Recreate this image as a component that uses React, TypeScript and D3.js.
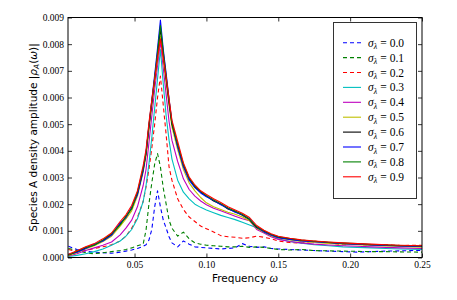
import React, { useEffect, useRef } from 'react';
import * as d3 from 'd3';

// frequency grid (omega)
const freq = [
  0.004, 0.010, 0.016, 0.022, 0.028, 0.034, 0.040, 0.044, 0.048, 0.052,
  0.056, 0.058, 0.060, 0.062, 0.064, 0.066, 0.068, 0.070, 0.072, 0.074,
  0.076, 0.080, 0.084, 0.088, 0.092, 0.096, 0.100, 0.105, 0.110, 0.115,
  0.120, 0.125, 0.130, 0.135, 0.140, 0.145, 0.150, 0.158, 0.166, 0.175,
  0.185, 0.195, 0.205, 0.215, 0.225, 0.235, 0.250,
];

// amplitudes |rho_A(omega)|, in units of 1e-3
const sig00 = [
  0.42, 0.30, 0.24, 0.20, 0.18, 0.16, 0.20, 0.24, 0.28, 0.34,
  0.42, 0.48, 0.65, 1.05, 1.90, 2.50, 1.90, 1.40, 1.10, 0.78,
  0.55, 0.40, 0.62, 0.50, 0.40, 0.38, 0.36, 0.34, 0.32, 0.34,
  0.36, 0.52, 0.42, 0.38, 0.40, 0.34, 0.32, 0.30, 0.28, 0.26,
  0.24, 0.22, 0.20, 0.22, 0.24, 0.25, 0.27,
];
const sig01 = [
  0.34, 0.26, 0.18, 0.14, 0.18, 0.22, 0.26, 0.30, 0.36, 0.44,
  0.50, 1.03, 2.00, 2.80, 3.50, 3.90, 3.40, 2.60, 2.00, 1.40,
  1.10, 0.80, 0.95, 0.70, 0.55, 0.50, 0.46, 0.44, 0.42, 0.40,
  0.40, 0.42, 0.38, 0.40, 0.38, 0.34, 0.30, 0.28, 0.30, 0.26,
  0.25, 0.24, 0.23, 0.22, 0.22, 0.21, 0.20,
];
const sig02 = [
  0.30, 0.22, 0.26, 0.34, 0.40, 0.48, 0.62, 0.80, 1.10, 1.50,
  2.10, 2.65, 3.30, 4.10, 5.00, 6.00, 6.80, 5.70, 4.60, 3.40,
  2.90, 2.20, 1.80, 1.52, 1.35, 1.18, 1.08, 0.96, 0.82, 0.78,
  0.76, 0.72, 0.74, 0.80, 0.76, 0.70, 0.62, 0.56, 0.54, 0.62,
  0.55, 0.48, 0.50, 0.46, 0.48, 0.45, 0.46,
];
const sig03 = [
  0.04, 0.08, 0.14, 0.22, 0.32, 0.46, 0.62, 0.80, 1.05, 1.45,
  2.10, 2.70, 3.50, 4.50, 5.60, 6.70, 7.80, 6.50, 5.30, 4.40,
  3.70, 2.90, 2.45, 2.20, 2.00, 1.88, 1.78, 1.68, 1.58, 1.50,
  1.42, 1.32, 1.22, 1.12, 0.95, 0.82, 0.70, 0.60, 0.54, 0.48,
  0.44, 0.40, 0.38, 0.36, 0.34, 0.32, 0.30,
];
const sig04 = [
  0.06, 0.14, 0.26, 0.36, 0.46, 0.58, 0.85, 1.10, 1.40, 1.90,
  2.70, 3.30, 4.30, 5.30, 6.30, 7.20, 8.10, 7.10, 6.10, 5.10,
  4.40, 3.60, 2.95, 2.55, 2.30, 2.12, 1.98, 1.85, 1.75, 1.65,
  1.55, 1.45, 1.38, 1.05, 0.92, 0.78, 0.68, 0.60, 0.55, 0.50,
  0.47, 0.44, 0.42, 0.40, 0.38, 0.36, 0.34,
];
const sig05 = [
  0.08, 0.18, 0.32, 0.44, 0.60, 0.80, 1.18, 1.45, 1.75, 2.30,
  3.20, 3.80, 4.80, 5.70, 6.60, 7.45, 8.30, 7.40, 6.55, 5.70,
  4.90, 4.05, 3.30, 2.80, 2.50, 2.25, 2.05, 1.90, 1.80, 1.70,
  1.62, 1.52, 1.38, 1.10, 0.95, 0.82, 0.73, 0.66, 0.60, 0.56,
  0.53, 0.50, 0.48, 0.45, 0.43, 0.41, 0.39,
];
const sig06 = [
  0.10, 0.22, 0.36, 0.48, 0.64, 0.86, 1.25, 1.52, 1.85, 2.40,
  3.30, 3.90, 4.90, 5.80, 6.70, 7.60, 8.60, 7.60, 6.70, 5.80,
  5.00, 4.20, 3.45, 2.95, 2.65, 2.45, 2.30, 2.12, 2.00, 1.82,
  1.72, 1.58, 1.42, 1.12, 0.98, 0.85, 0.76, 0.70, 0.64, 0.60,
  0.56, 0.53, 0.51, 0.48, 0.46, 0.44, 0.42,
];
const sig07 = [
  0.12, 0.20, 0.34, 0.50, 0.62, 0.84, 1.30, 1.50, 1.88, 2.35,
  3.25, 3.95, 4.95, 5.90, 6.85, 7.85, 8.90, 7.80, 6.90, 5.95,
  5.10, 4.15, 3.40, 2.90, 2.62, 2.42, 2.28, 2.15, 1.98, 1.85,
  1.70, 1.60, 1.45, 1.15, 0.96, 0.84, 0.74, 0.68, 0.62, 0.59,
  0.56, 0.52, 0.50, 0.47, 0.45, 0.43, 0.41,
];
const sig08 = [
  0.08, 0.24, 0.38, 0.46, 0.66, 0.90, 1.22, 1.55, 1.82, 2.45,
  3.35, 3.92, 4.95, 5.85, 6.75, 7.70, 8.70, 7.70, 6.80, 5.90,
  5.05, 4.25, 3.50, 2.98, 2.68, 2.48, 2.32, 2.16, 2.02, 1.86,
  1.74, 1.62, 1.44, 1.16, 1.00, 0.87, 0.78, 0.71, 0.65, 0.61,
  0.57, 0.54, 0.52, 0.49, 0.47, 0.45, 0.43,
];
const sig09 = [
  0.12, 0.25, 0.40, 0.52, 0.70, 0.92, 1.35, 1.60, 1.95, 2.50,
  3.45, 4.05, 5.05, 5.90, 6.70, 7.50, 8.20, 7.50, 6.75, 5.95,
  5.15, 4.35, 3.55, 3.02, 2.72, 2.50, 2.36, 2.20, 2.06, 1.90,
  1.78, 1.66, 1.50, 1.20, 1.02, 0.89, 0.80, 0.72, 0.66, 0.62,
  0.58, 0.55, 0.52, 0.50, 0.48, 0.46, 0.44,
];

const seriesValues = [sig00, sig01, sig02, sig03, sig04, sig05, sig06, sig07, sig08, sig09];
const sigmaLabels = ['0.0', '0.1', '0.2', '0.3', '0.4', '0.5', '0.6', '0.7', '0.8', '0.9'];
const colors = ['#0000ff', '#008000', '#ff0000', '#00bfbf', '#bf00bf', '#bfbf00', '#000000', '#0000ff', '#008000', '#ff0000'];
const dashed = [true, true, true, false, false, false, false, false, false, false];

const xTicks = [0.05, 0.10, 0.15, 0.20, 0.25];
const yTicks = [0, 1, 2, 3, 4, 5, 6, 7, 8, 9];

const App: React.FC = () => {
  const svgRef = useRef<SVGSVGElement>(null);

  useEffect(() => {
    if (!svgRef.current) return;
    const svg = d3.select(svgRef.current);
    svg.selectAll('*').remove();

    const left = 68, right = 422, top = 17.5, bottom = 257.5;
    const x = d3.scaleLinear().domain([0.0037, 0.25]).range([left, right]);
    const y = d3.scaleLinear().domain([0, 9]).range([bottom, top]);

    const serif = '"Liberation Serif", "DejaVu Serif", serif';
    const sans = '"DejaVu Sans", sans-serif';

    // clip for lines
    svg.append('defs').append('clipPath').attr('id', 'plotclip')
      .append('rect').attr('x', left).attr('y', top)
      .attr('width', right - left).attr('height', bottom - top);

    const line = d3.line<number>()
      .x((_, i) => x(freq[i]))
      .y(d => y(d));

    const lines = svg.append('g').attr('clip-path', 'url(#plotclip)');
    seriesValues.forEach((vals, i) => {
      lines.append('path')
        .attr('d', line(vals) || '')
        .attr('fill', 'none')
        .attr('stroke', colors[i])
        .attr('stroke-width', 1.1)
        .attr('stroke-linejoin', 'round')
        .attr('stroke-dasharray', dashed[i] ? '4,3' : null);
    });

    // axes, ticks pointing inward on all sides
    const styleAxis = (g: d3.Selection<SVGGElement, unknown, null, undefined>) => {
      g.select('.domain').remove();
      g.selectAll('line').attr('stroke', '#000').attr('stroke-width', 0.8);
      g.selectAll('text').attr('fill', '#000');
      g.attr('font-family', serif).attr('font-size', 9.5);
    };

    svg.append('g')
      .attr('transform', `translate(0,${bottom})`)
      .call(d3.axisBottom(x).tickValues(xTicks).tickSize(-4).tickPadding(4).tickFormat(d3.format('.2f')))
      .call(styleAxis);
    svg.append('g')
      .attr('transform', `translate(0,${top})`)
      .call(d3.axisTop(x).tickValues(xTicks).tickSize(-4).tickFormat(() => ''))
      .call(styleAxis);
    svg.append('g')
      .attr('transform', `translate(${left},0)`)
      .call(d3.axisLeft(y).tickValues(yTicks).tickSize(-4).tickPadding(4).tickFormat(d => (+d / 1000).toFixed(3)))
      .call(styleAxis);
    svg.append('g')
      .attr('transform', `translate(${right},0)`)
      .call(d3.axisRight(y).tickValues(yTicks).tickSize(-4).tickFormat(() => ''))
      .call(styleAxis);

    svg.append('rect')
      .attr('x', left).attr('y', top)
      .attr('width', right - left).attr('height', bottom - top)
      .attr('fill', 'none').attr('stroke', '#000').attr('stroke-width', 1);

    // axis labels
    const xl = svg.append('text')
      .attr('x', (left + right) / 2).attr('y', 282)
      .attr('text-anchor', 'middle')
      .attr('font-family', sans).attr('font-size', 10.5);
    xl.append('tspan').text('Frequency ');
    xl.append('tspan').attr('font-family', serif).attr('font-style', 'italic').attr('font-size', 12).text('ω');

    const yl = svg.append('text')
      .attr('transform', `translate(37,${(top + bottom) / 2}) rotate(-90)`)
      .attr('text-anchor', 'middle')
      .attr('font-family', sans).attr('font-size', 10.5);
    yl.append('tspan').text('Species A density amplitude |');
    yl.append('tspan').attr('font-style', 'italic').text('ρ');
    yl.append('tspan').attr('font-style', 'italic').attr('font-size', 7.5).attr('dy', 2).text('A');
    yl.append('tspan').attr('dy', -2).text('(');
    yl.append('tspan').attr('font-style', 'italic').text('ω');
    yl.append('tspan').text(')|');

    // legend
    const lg = svg.append('g');
    lg.append('rect')
      .attr('x', 333.5).attr('y', 22.5).attr('width', 83).attr('height', 176)
      .attr('fill', '#fff').attr('stroke', '#333').attr('stroke-width', 1);
    sigmaLabels.forEach((lab, i) => {
      const cy = 42.7 + i * 14.9;
      lg.append('line')
        .attr('x1', 343).attr('x2', 361).attr('y1', cy).attr('y2', cy)
        .attr('stroke', colors[i]).attr('stroke-width', 1.1)
        .attr('stroke-dasharray', dashed[i] ? '4,3' : null);
      const t = lg.append('text')
        .attr('x', 368).attr('y', cy + 4)
        .attr('font-family', serif).attr('font-size', 11.5);
      t.append('tspan').attr('font-style', 'italic').text('σ');
      t.append('tspan').attr('font-style', 'italic').attr('font-size', 8).attr('dy', 2.5).text('λ');
      t.append('tspan').attr('dy', -2.5).attr('dx', 3).text('=');
      t.append('tspan').attr('dx', 3).text(lab);
    });
  }, []);

  return (
    <div style={{ position: 'absolute', left: 0, top: 0 }}>
      <svg ref={svgRef} width={457} height={300} style={{ display: 'block', background: '#fff' }} />
    </div>
  );
};

export default App;
